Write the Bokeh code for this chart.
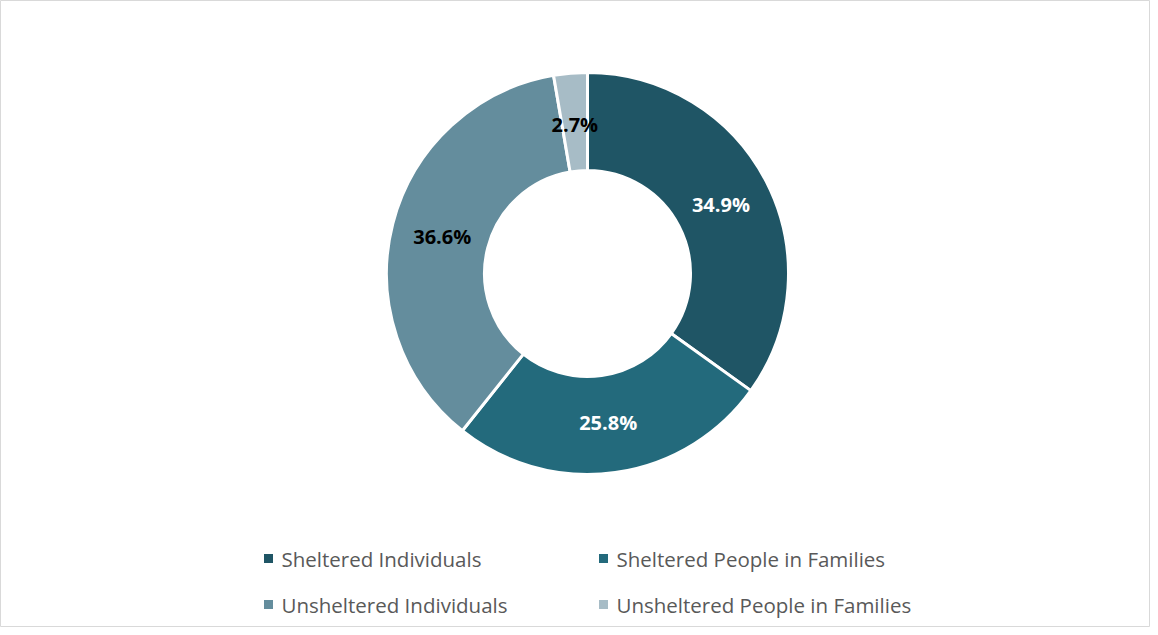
import math
from bokeh.plotting import figure
from bokeh.models import Range1d, ColumnDataSource
from bokeh.core.properties import value
from bokeh.embed import file_html
from bokeh.resources import INLINE

categories = ["Sheltered Individuals", "Sheltered People in Families",
              "Unsheltered Individuals", "Unsheltered People in Families"]
shares = [34.9, 25.8, 36.6, 2.7]
colors = ["#1f5565", "#236a7c", "#648d9d", "#a7bcc6"]
label_colors = ["white", "white", "black", "black"]

W, H = 1150, 627
p = figure(width=W, height=H, output_backend="svg", toolbar_location=None,
           x_range=Range1d(0, W), y_range=Range1d(0, H), min_border=0)
p.axis.visible = False
p.grid.visible = False
p.outline_line_color = "#d9d9d9"
p.outline_line_width = 1
p.background_fill_color = "white"

cx, cy = 587, H - 273
r_in, r_out = 103, 201
total = sum(shares)
starts, ends, lx, ly, labels = [], [], [], [], []
cum = 0.0
for s in shares:
    a0 = math.pi / 2 - 2 * math.pi * cum / total
    a1 = math.pi / 2 - 2 * math.pi * (cum + s) / total
    starts.append(a0)
    ends.append(a1)
    mid = (a0 + a1) / 2
    rl = 150
    lx.append(cx + rl * math.cos(mid))
    ly.append(cy + rl * math.sin(mid))
    labels.append(f"{s:.1f}%")
    cum += s

src = ColumnDataSource(dict(start=starts, end=ends, color=colors,
                            lx=lx, ly=ly, label=labels, lc=label_colors))
p.annular_wedge(x=cx, y=cy, inner_radius=r_in, outer_radius=r_out,
                start_angle="start", end_angle="end", direction="clock",
                fill_color="color", line_color="white", line_width=3, source=src)
p.text(x="lx", y="ly", text="label", text_color="lc", source=src,
       text_align="center", text_baseline="middle",
       text_font=value("Open Sans"), text_font_style="bold",
       text_font_size="20px")

# legend (manual, two columns)
leg_x = [268, 268 + 335, 268, 268 + 335]
leg_y = [H - 558, H - 558, H - 604, H - 604]
lsrc = ColumnDataSource(dict(x=leg_x, y=leg_y, tx=[x + 13 for x in leg_x],
                             color=colors, name=categories))
p.scatter(x="x", y="y", marker="square", size=9, fill_color="color",
          line_color=None, source=lsrc)
p.text(x="tx", y="y", text="name", source=lsrc, text_color="#595959",
       text_align="left", text_baseline="middle",
       text_font=value("Open Sans"), text_font_size="20.5px")

open("out.html", "w").write(file_html(p, INLINE))
